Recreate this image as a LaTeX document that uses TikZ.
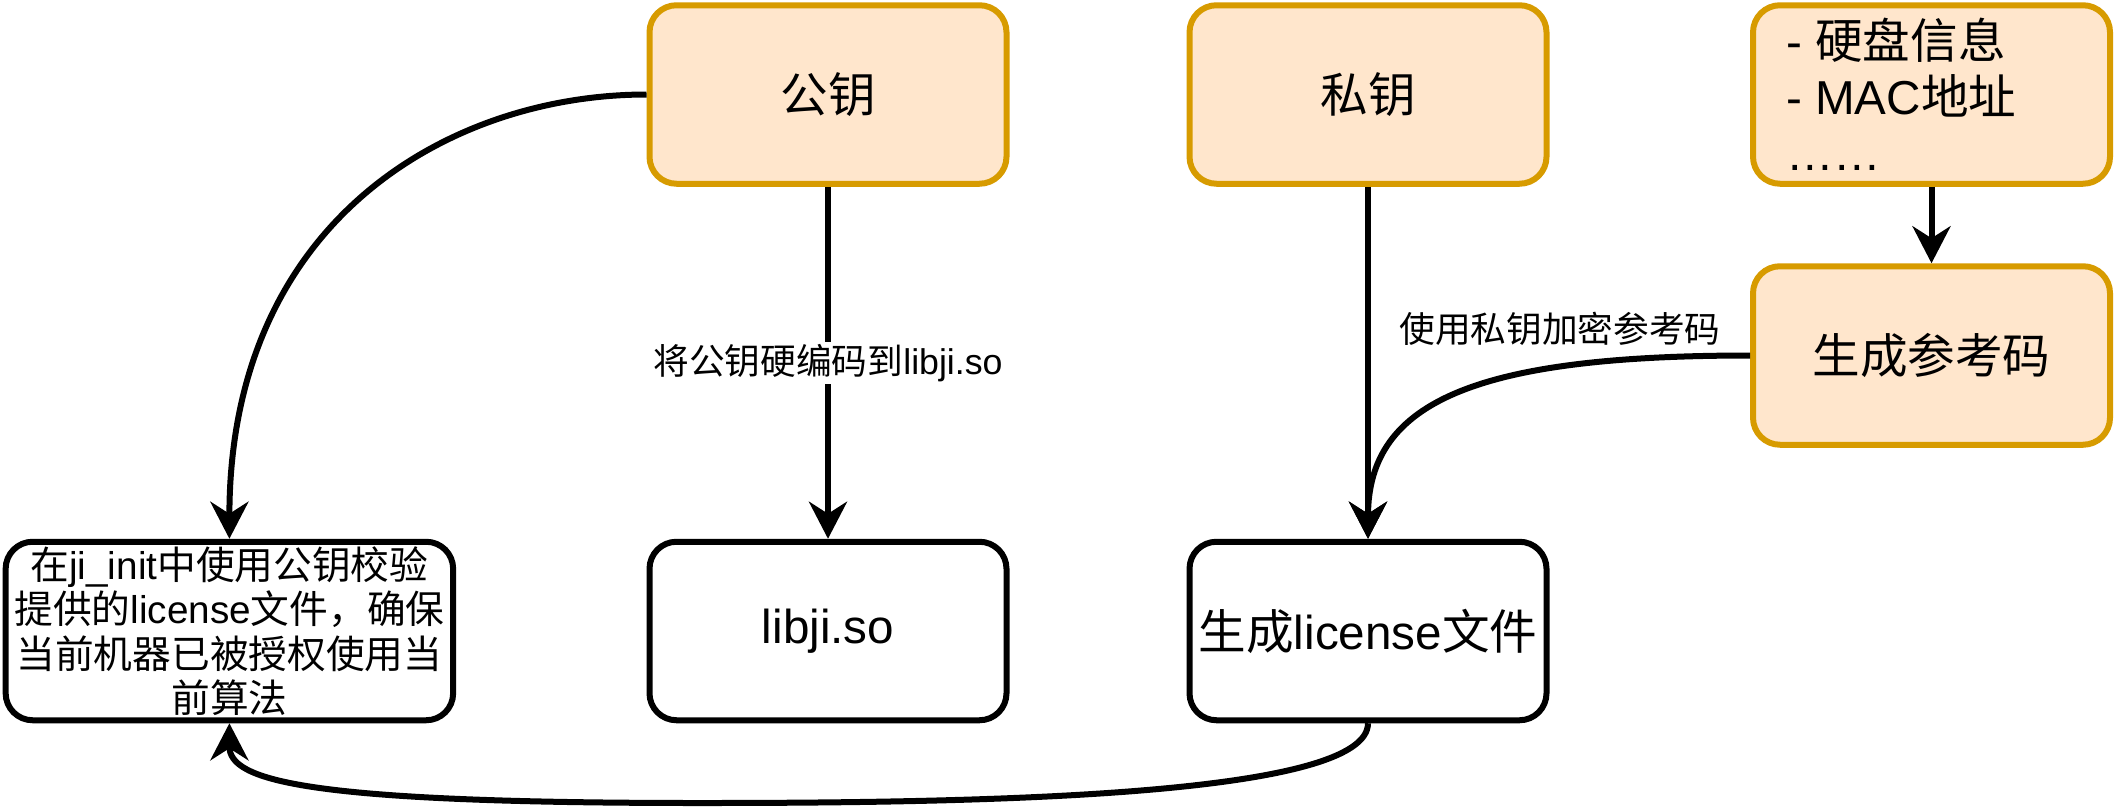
\documentclass[tikz,border=0pt]{standalone}
\usepackage{fontspec}
\setmainfont{Noto Sans CJK SC}
\newfontfamily\lat{Liberation Sans}
\usetikzlibrary{arrows.meta}
\definecolor{ofill}{HTML}{FFE6CC}
\definecolor{oline}{HTML}{D79B00}
\begin{document}
\begin{tikzpicture}[x=1pt,y=-1pt,
  box/.style={draw=black, fill=white, line width=6pt, rounded corners=27pt, minimum width=357pt, minimum height=178.5pt, inner sep=0pt, align=center, font=\fontsize{47.6}{56}\selectfont},
  obox/.style={box, draw=oline, fill=ofill},
  conn/.style={line width=6pt, -{Stealth[length=37pt,width=38pt,inset=12pt]}},
  lbl/.style={font=\fontsize{35.7}{42}\selectfont, inner sep=2pt}]
\useasboundingbox (0,0) rectangle (2115,807);
\node[obox] (pk) at (828,94.5) {公钥};
\node[box] (lib) at (828,631) {{\lat libji.so}};
\node[box, minimum width=447.5pt, font=\fontsize{38.7}{44.5}\selectfont] (ver) at (229.4,631) {在{\lat ji\_init}中使用公钥校验\\提供的{\lat license}文件，确保\\当前机器已被授权使用当\\前算法};
\node[obox] (sk) at (1368,94.5) {私钥};
\node[obox] (info) at (1931.5,94.5) {};
\node[anchor=west, align=left, inner sep=0pt, font=\fontsize{47.6}{56}\selectfont] (infotxt) at (1786,94.5) {{\lat - }硬盘信息\\{\lat - MAC}地址\\{\lat ……}};
\node[obox] (ref) at (1931.5,355.5) {生成参考码};
\node[box] (lic) at (1368,631) {生成{\lat license}文件};
\draw[conn] (pk.south) -- node[lbl, fill=white] (l1) {将公钥硬编码到{\lat libji.so}} (lib.north);
\draw[conn] (pk.west) .. controls (450,94.5) and (229.4,220) .. (ver.north);
\draw[conn] (sk.south) -- (lic.north);
\draw[conn] (ref.west) .. controls (1480,355.5) and (1368,400) .. (lic.north);
\node[lbl] (l2) at (1560,329) {使用私钥加密参考码};
\draw[conn] (info.south) -- (ref.north);
\coordinate (bm) at (700,803);
\draw[conn] (lic.south) .. controls (1368,795) and (1000,803) .. (bm) .. controls (300,803) and (229.4,780) .. (ver.south);
\end{tikzpicture}
\end{document}
